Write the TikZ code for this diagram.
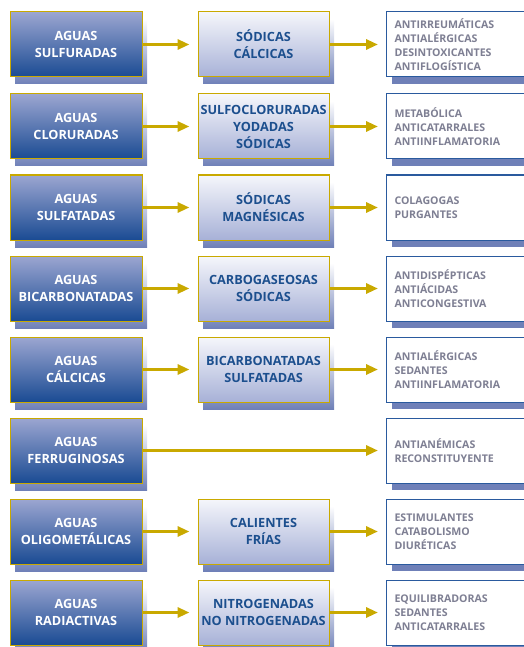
\documentclass[tikz,border=0pt]{standalone}
\usepackage{fontspec}
\setmainfont{Open Sans}
\usetikzlibrary{shadows,arrows.meta}
\definecolor{azulclaro}{HTML}{9CA6D1}
\definecolor{azuloscuro}{HTML}{1A4B93}
\definecolor{medioclaro}{HTML}{F5F6FB}
\definecolor{medioscuro}{HTML}{A7B1D7}
\definecolor{oro}{HTML}{C9A900}
\definecolor{azultexto}{HTML}{1C4F8E}
\definecolor{azulborde}{HTML}{2A5A9E}
\definecolor{gristexto}{HTML}{7E7F93}
\definecolor{azulsombra}{HTML}{6F80B8}
\begin{document}
\begin{tikzpicture}[x=1pt,y=-1pt]
	\useasboundingbox (0,0) rectangle (523,647);
	\tikzstyle{sombra}=[general shadow={shadow xshift=5pt,shadow yshift=-7pt,top color=white,bottom color=azulsombra}]
	\tikzstyle{aguas}=[minimum width=132pt, minimum height=65pt, inner sep=2pt, draw=oro, line width=1pt, top color=azulclaro, bottom color=azuloscuro, text=white, align=center, font=\bfseries\fontsize{12.7}{17}\selectfont, sombra]
	\tikzstyle{tipo}=[minimum width=131pt, minimum height=65pt, inner sep=1pt, draw=oro, line width=1pt, top color=medioclaro, bottom color=medioscuro, text=azultexto, align=center, font=\bfseries\fontsize{12.7}{17}\selectfont, sombra]
	\tikzstyle{efecto}=[anchor=west, minimum width=170pt, minimum height=65pt, inner xsep=8pt, text width=154pt, align=left, draw=azulborde, line width=1pt, fill=white, text=gristexto, font=\bfseries\fontsize{10.6}{13.8}\selectfont, general shadow={shadow xshift=5pt,shadow yshift=-7pt,fill=azulsombra}]
	\tikzstyle{flecha}=[draw=oro, line width=3pt, -{Triangle[length=12pt,width=10pt]}, shorten >=8pt]
	% fila 1
	\node[aguas] (s1) at (76,44.5) {AGUAS\\SULFURADAS};
	\node[tipo] (m1) at (263.5,44.5) {SÓDICAS\\CÁLCICAS};
	\node[efecto] (r1) at (386,44.5) {ANTIRREUMÁTICAS\\ANTIALÉRGICAS\\DESINTOXICANTES\\ANTIFLOGÍSTICA};
	% fila 2
	\node[aguas] (s2) at (76,126.5) {AGUAS\\CLORURADAS};
	\node[tipo] (m2) at (263.5,126.5) {SULFOCLORURADAS\\YODADAS\\SÓDICAS};
	\node[efecto] (r2) at (386,126.5) {METABÓLICA\\ANTICATARRALES\\ANTIINFLAMATORIA};
	% fila 3
	\node[aguas] (s3) at (76,207.5) {AGUAS\\SULFATADAS};
	\node[tipo] (m3) at (263.5,207.5) {SÓDICAS\\MAGNÉSICAS};
	\node[efecto] (r3) at (386,207.5) {COLAGOGAS\\PURGANTES};
	% fila 4
	\node[aguas] (s4) at (76,288.5) {AGUAS\\BICARBONATADAS};
	\node[tipo] (m4) at (263.5,288.5) {CARBOGASEOSAS\\SÓDICAS};
	\node[efecto] (r4) at (386,288.5) {ANTIDISPÉPTICAS\\ANTIÁCIDAS\\ANTICONGESTIVA};
	% fila 5
	\node[aguas] (s5) at (76,369.5) {AGUAS\\CÁLCICAS};
	\node[tipo] (m5) at (263.5,369.5) {BICARBONATADAS\\SULFATADAS};
	\node[efecto] (r5) at (386,369.5) {ANTIALÉRGICAS\\SEDANTES\\ANTIINFLAMATORIA};
	% fila 6, sin tipo
	\node[aguas] (s6) at (76,450.5) {AGUAS\\FERRUGINOSAS};
	\node[efecto] (r6) at (386,450.5) {ANTIANÉMICAS\\RECONSTITUYENTE};
	% fila 7
	\node[aguas] (s7) at (76,531.5) {AGUAS\\OLIGOMETÁLICAS};
	\node[tipo] (m7) at (263.5,531.5) {CALIENTES\\FRÍAS};
	\node[efecto] (r7) at (386,531.5) {ESTIMULANTES\\CATABOLISMO\\DIURÉTICAS};
	% fila 8
	\node[aguas] (s8) at (76,612.5) {AGUAS\\RADIACTIVAS};
	\node[tipo] (m8) at (263.5,612.5) {NITROGENADAS\\NO NITROGENADAS};
	\node[efecto] (r8) at (386,612.5) {EQUILIBRADORAS\\SEDANTES\\ANTICATARRALES};
	% flechas
	\foreach \i in {1,2,3,4,5,7,8} {
		\draw[flecha] (s\i.east) -- (m\i.west);
		\draw[flecha] (m\i.east) -- (r\i.west);
	}
	\draw[flecha] (s6.east) -- (r6.west);
\end{tikzpicture}
\end{document}
